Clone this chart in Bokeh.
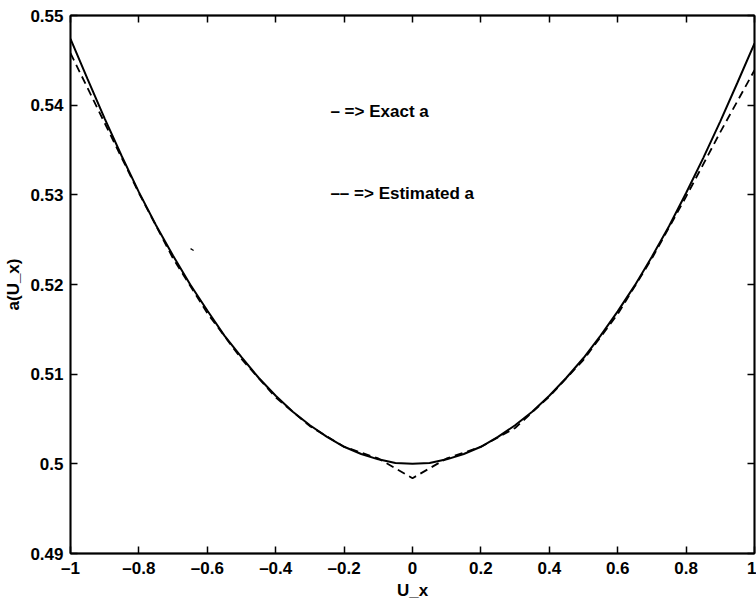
from bokeh.plotting import figure
from bokeh.models import Range1d, FixedTicker, LinearAxis, ColumnDataSource
from bokeh.core.properties import value
from bokeh.embed import file_html
from bokeh.resources import INLINE

# ---- data ----
u_x = [-1.00, -0.95, -0.90, -0.85, -0.80, -0.75, -0.70, -0.65, -0.60, -0.55,
       -0.50, -0.45, -0.40, -0.35, -0.30, -0.25, -0.20, -0.15, -0.10, -0.05,
       0.00, 0.05, 0.10, 0.15, 0.20, 0.25, 0.30, 0.35, 0.40, 0.45,
       0.50, 0.55, 0.60, 0.65, 0.70, 0.75, 0.80, 0.85, 0.90, 0.95, 1.00]
exact_a = [0.5474, 0.5429, 0.5385, 0.5343, 0.5303, 0.5266, 0.5232, 0.5200, 0.5171, 0.5143,
           0.5119, 0.5096, 0.5076, 0.5058, 0.5043, 0.5030, 0.5019, 0.5011, 0.5005, 0.5001,
           0.5000, 0.5001, 0.5005, 0.5011, 0.5019, 0.5030, 0.5043, 0.5058, 0.5076, 0.5096,
           0.5118, 0.5143, 0.5170, 0.5199, 0.5231, 0.5265, 0.5302, 0.5341, 0.5382, 0.5425, 0.5469]

est_x = [-1.0, -0.9, -0.8, -0.7, -0.6, -0.5, -0.4, -0.3, -0.2, -0.1, 0.0,
         0.1, 0.2, 0.3, 0.4, 0.5, 0.6, 0.7, 0.8, 0.9, 1.0]
est_a = [0.5458, 0.5380, 0.5302, 0.5229, 0.5168, 0.5117, 0.5074, 0.5042, 0.5019, 0.5006, 0.4984,
         0.5006, 0.5019, 0.5040, 0.5075, 0.5116, 0.5167, 0.5229, 0.5298, 0.5370, 0.5439]

stray_x = [-0.649, -0.640]
stray_y = [0.5240, 0.5238]

x_ticks = [-1, -0.8, -0.6, -0.4, -0.2, 0, 0.2, 0.4, 0.6, 0.8, 1]
x_tick_labels = ["\u20131", "\u20130.8", "\u20130.6", "\u20130.4", "\u20130.2", "0",
                 "0.2", "0.4", "0.6", "0.8", "1"]
y_ticks = [0.49, 0.5, 0.51, 0.52, 0.53, 0.54, 0.55]
y_tick_labels = ["0.49", "0.5", "0.51", "0.52", "0.53", "0.54", "0.55"]

note_text = ["\u2013 => Exact a", "\u2013\u2013 => Estimated a"]
note_x = [-0.24, -0.24]
note_y = [0.5393, 0.5301]

x_label = "U_x"
y_label = "a(U_x)"

FONT = "Liberation Sans"

p = figure(width=756, height=603, output_backend="svg", toolbar_location=None,
           x_range=Range1d(-1, 1), y_range=Range1d(0.49, 0.55),
           min_border_left=70, min_border_right=2, min_border_top=15, min_border_bottom=50)
p.background_fill_color = "white"
p.border_fill_color = "white"
p.grid.visible = False
p.outline_line_color = "black"
p.outline_line_width = 1.5

def style_axis(ax, ticks, labels, show_labels):
    ax.ticker = FixedTicker(ticks=ticks)
    ax.minor_tick_line_color = None
    ax.major_tick_in = 7
    ax.major_tick_out = 0
    ax.major_tick_line_color = "black"
    ax.major_tick_line_width = 1.5
    ax.axis_line_color = "black"
    ax.axis_line_width = 1.8
    if show_labels:
        ax.major_label_overrides = dict(zip(ticks, labels))
        ax.major_label_text_font = FONT
        ax.major_label_text_font_style = "bold"
        ax.major_label_text_font_size = "17px"
        ax.major_label_text_color = "black"
        ax.major_label_standoff = 7
    else:
        ax.major_label_text_font_size = "0px"
        ax.major_label_text_alpha = 0
        ax.major_label_standoff = 0

xa = p.xaxis[0]
style_axis(xa, x_ticks, x_tick_labels, True)
xa.major_label_standoff = 5
xa.axis_label = x_label
xa.axis_label_text_font = FONT
xa.axis_label_text_font_style = "bold"
xa.axis_label_text_font_size = "17px"
xa.axis_label_text_color = "black"
xa.axis_label_standoff = 0

ya = p.yaxis[0]
style_axis(ya, y_ticks, y_tick_labels, True)
ya.axis_label = y_label
ya.axis_label_text_font = FONT
ya.axis_label_text_font_style = "bold"
ya.axis_label_text_font_size = "17px"
ya.axis_label_text_color = "black"
ya.axis_label_standoff = 4

top_ax = LinearAxis()
style_axis(top_ax, x_ticks, x_tick_labels, False)
p.add_layout(top_ax, "above")
right_ax = LinearAxis()
style_axis(right_ax, y_ticks, y_tick_labels, False)
p.add_layout(right_ax, "right")

p.line(u_x, exact_a, line_color="black", line_width=2)
p.line(est_x, est_a, line_color="black", line_width=1.8, line_dash="8 5")
p.line(stray_x, stray_y, line_color="black", line_width=1.2)

src = ColumnDataSource(dict(x=note_x, y=note_y, t=note_text))
p.text(x="x", y="y", text="t", source=src, text_font=value(FONT), text_font_style="bold",
       text_font_size="17px", text_align="left", text_baseline="middle", text_color="black")

open("out.html", "w").write(file_html(p, INLINE))
